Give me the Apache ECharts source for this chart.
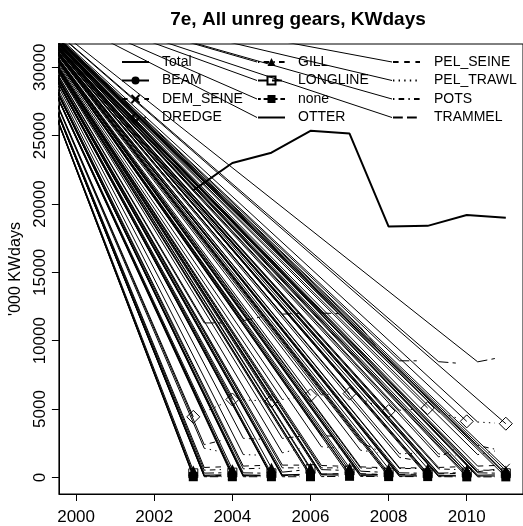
<!DOCTYPE html>
<html><head><meta charset="utf-8">
<script src="https://cdn.jsdelivr.net/npm/echarts@6/dist/echarts.min.js"></script>
<style>html,body{margin:0;padding:0;background:#fff}#c{width:523px;height:526px}</style>
</head><body><div id="c"></div>
<script>
// ---------------- data ----------------
const years = [2003, 2004, 2005, 2006, 2007, 2008, 2009, 2010, 2011];
const gears = ['Total','BEAM','DEM_SEINE','DREDGE','GILL','LONGLINE','none','OTTER','PEL_SEINE','PEL_TRAWL','POTS','TRAMMEL'];
const total     = [21000, 23000, 23750, 25350, 25150, 18350, 18400, 19200, 19000];
const beam      = [150, 200, 150, 250, 250, 200, 150, 150, 200];
const demSeine  = [100, 150, 100, 200, 300, 200, 250, 300, 700];
const dredge    = [4430, 5700, 5580, 6000, 6130, 4850, 5070, 4100, 3930];
const gill      = [500, 600, 700, 700, 700, 650, 650, 550, 500];
const longline  = [300, 350, 300, 600, 500, 350, 300, 350, 300];
const noneGear  = [50, 50, 50, 50, 80, 60, 60, 40, 40];
const otter     = [100, 100, 150, 200, 150, 100, 100, 100, 100];
const pelSeine  = [700, 800, 900, 900, 800, 700, 700, 800, 900];
const pelTrawl  = [2300, 1700, 1600, 2300, 2100, 1700, 1800, 1500, 2100];
const pots      = [2200, 2900, 2750, 3100, 2950, 1600, 1100, 2500, 1900];
const trammel   = [11300, 11300, 11900, 12050, 11950, 8530, 8530, 8300, 8850];
const xTicks = [2000, 2002, 2004, 2006, 2008, 2010];
const yTicks = [0, 5000, 10000, 15000, 20000, 25000, 30000];
// point (in data units) where the stray drawing strokes of the original converge
const fanOrigin = [1998.25, 35650];

const values = {Total: total, BEAM: beam, DEM_SEINE: demSeine, DREDGE: dredge, GILL: gill,
  LONGLINE: longline, none: noneGear, OTTER: otter, PEL_SEINE: pelSeine, PEL_TRAWL: pelTrawl,
  POTS: pots, TRAMMEL: trammel};

// ---------------- styles ----------------
const U = 1.4;
const LTY = {
  solid: 'solid',
  dashed: [4*U, 4*U],
  dotted: [1*U, 3*U],
  dotdash: [1*U, 3*U, 4*U, 3*U],
  longdash: [7*U, 3*U],
  twodash: [2*U, 2*U, 6*U, 2*U]
};
const CLEAR = 'rgba(0,0,0,0)';
const xPath = 'path://M0,0L10,10M10,0L0,10';
const sqPath = 'path://M0,0L10,0L10,10L0,10Z';
const style = {
  Total:     {lty: 'solid', width: 2, symbol: 'none'},
  BEAM:      {lty: 'solid', symbol: 'circle', fill: '#000', size: 9},
  DEM_SEINE: {lty: 'dashed', symbol: xPath, fill: CLEAR, size: 8},
  DREDGE:    {lty: 'dotted', symbol: 'diamond', fill: CLEAR, size: 13},
  GILL:      {lty: 'dotdash', symbol: 'triangle', fill: '#000', size: 10},
  LONGLINE:  {lty: 'longdash', symbol: sqPath, fill: CLEAR, size: 9},
  none:      {lty: 'twodash', symbol: 'rect', fill: '#000', size: 9},
  OTTER:     {lty: 'solid', symbol: 'none'},
  PEL_SEINE: {lty: 'dashed', symbol: 'none'},
  PEL_TRAWL: {lty: 'dotted', symbol: 'none'},
  POTS:      {lty: 'dotdash', symbol: 'none'},
  TRAMMEL:   {lty: 'longdash', symbol: 'none'}
};
const GAP = 0.28;       // fraction of a year left blank next to each point (R type="b")
const FONT = 'Liberation Sans, Arial, sans-serif';

const legendCols = [
  {left: 121, names: gears.slice(0, 4), pad: 8, fan: false},
  {left: 257, names: gears.slice(4, 8), pad: 8, fan: true},
  {left: 392, names: gears.slice(8, 12), pad: 9, fan: true}
];
const LEG_TOP = 55, LEG_ROW = 18.5, LEG_W = 27, LEG_H = 10;

function gapped(vals) {
  const out = [];
  for (let i = 0; i < years.length - 1; i++) {
    const x0 = years[i], x1 = years[i+1], y0 = vals[i], y1 = vals[i+1];
    out.push([x0 + GAP*(x1-x0), y0 + GAP*(y1-y0)]);
    out.push([x1 - GAP*(x1-x0), y1 - GAP*(y1-y0)]);
    out.push([null, null]);
  }
  return out;
}

const series = [];
const fanTargets = [];
gears.forEach(g => {
  const st = style[g];
  const v = values[g];
  const isTotal = g === 'Total';
  const hasSym = st.symbol !== 'none';
  const data = isTotal ? years.map((y, i) => [y, v[i]]) : gapped(v);
  series.push({
    name: g, type: 'line', data: data, showSymbol: false,
    symbol: hasSym ? st.symbol : 'circle',
    symbolSize: st.size || 8, connectNulls: false, silent: true, animation: false, z: 3,
    lineStyle: {color: '#000', width: st.width || 1, type: LTY[st.lty]},
    itemStyle: hasSym
      ? {color: st.fill, borderColor: '#000', borderWidth: st.fill === '#000' ? 0 : 1}
      : {color: CLEAR, borderColor: CLEAR, borderWidth: 0}
  });
  if (isTotal) fanTargets.push([years[0], v[0]]);
  else data.forEach((p, k) => { if (k % 3 === 0) fanTargets.push(p); });
  if (hasSym) {
    series.push({
      name: g + ' points', type: 'scatter', data: years.map((y, i) => [y, v[i]]),
      symbol: st.symbol, symbolSize: st.size, silent: true, animation: false, z: 4,
      itemStyle: {color: st.fill, borderColor: '#000', borderWidth: st.fill === '#000' ? 0 : 1, opacity: 1}
    });
    years.forEach((y, i) => fanTargets.push([y, v[i]]));
  }
});

function fanData(targets) {
  const out = [];
  targets.forEach(t => { out.push(fanOrigin, t, [null, null]); });
  return out;
}
series.unshift({
  name: 'fan', type: 'line', data: fanData(fanTargets), showSymbol: false, symbol: 'none',
  connectNulls: false, clip: true, silent: true, animation: false, z: 2,
  lineStyle: {color: '#000', width: 1}
});

const legends = legendCols.map(c => ({
  orient: 'vertical', left: c.left, top: LEG_TOP, padding: 0, data: c.names,
  itemWidth: LEG_W, itemHeight: LEG_H, itemGap: LEG_ROW - 14, selectedMode: false,
  textStyle: {fontFamily: FONT, fontSize: 14, lineHeight: 14, color: '#000', padding: [0, 0, 0, c.pad]}
}));

const plain = v => String(v);
const chart = echarts.init(document.getElementById('c'), null, {renderer: 'canvas'});
const option = {
  animation: false,
  backgroundColor: '#fff',
  title: {text: '7e, All unreg gears, KWdays', left: 293, top: 5, textAlign: 'center',
    textStyle: {fontFamily: FONT, fontSize: 19, fontWeight: 'bold', color: '#000'}},
  legend: legends,
  grid: {left: 58, top: 44, bottom: 32, right: -5, show: true, borderColor: '#000', borderWidth: 1,
    backgroundColor: 'transparent'},
  xAxis: {type: 'value', min: 1999.56, max: 2011.44,
    axisLine: {show: true, onZero: false, lineStyle: {color: '#000', width: 1}}, splitLine: {show: false},
    axisTick: {show: true, length: 7, lineStyle: {color: '#000', width: 1}, customValues: xTicks},
    axisLabel: {customValues: xTicks, formatter: plain, margin: 15, fontFamily: FONT, fontSize: 17, color: '#000'}},
  yAxis: {type: 'value', min: -1213, max: 31703,
    name: "'000 KWdays", nameLocation: 'middle', nameGap: 29,
    nameTextStyle: {fontFamily: FONT, fontSize: 16, color: '#000'},
    axisLine: {show: true, onZero: false, lineStyle: {color: '#000', width: 1}}, splitLine: {show: false},
    axisTick: {show: true, length: 7, lineStyle: {color: '#000', width: 1}, customValues: yTicks},
    axisLabel: {customValues: yTicks, formatter: plain, rotate: 90, margin: 10, fontFamily: FONT, fontSize: 17, color: '#000'}},
  series: series
};
chart.setOption(option);

// stray strokes also reach the left end of the legend samples in columns 2 and 3
const legendTargets = [];
legendCols.forEach(c => {
  if (!c.fan) return;
  c.names.forEach((n, r) => {
    const px = [c.left, LEG_TOP + 7 + r * LEG_ROW];
    legendTargets.push(chart.convertFromPixel({gridIndex: 0}, px));
  });
});
chart.setOption({series: [{name: 'fan', data: fanData(fanTargets.concat(legendTargets))}]});
</script></body></html>
